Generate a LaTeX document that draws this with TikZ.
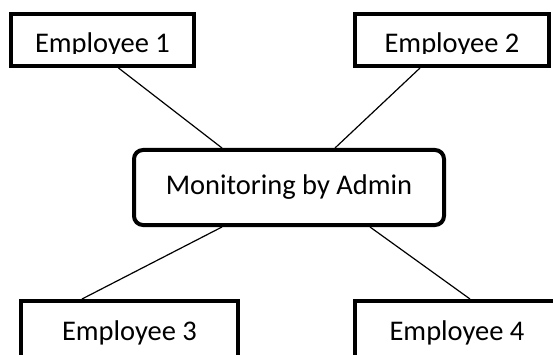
\documentclass[tikz,border=0pt]{standalone}
\usepackage{fontspec}
\setmainfont{Carlito}
\usetikzlibrary{positioning}
\tikzset{
  empbox/.style={draw, line width=4pt, fill=white, inner sep=0pt},
  adminbox/.style={draw, line width=4pt, fill=white, rounded corners=9pt,
    minimum width=310pt, minimum height=75pt, inner sep=0pt},
  lbl/.style={anchor=base, inner sep=0pt},
  link/.style={line width=1.2pt}
}

\begin{document}
\begin{tikzpicture}[x=1pt,y=-1pt,font=\fontsize{28.5}{34}\selectfont]
  \useasboundingbox (0,0) rectangle (553,355);

  \node[empbox, minimum width=183pt, minimum height=52pt] (emp1) at (102.5,40) {};
  \node[empbox, minimum width=194pt, minimum height=52pt] (emp2) at (452,40) {};
  \node[adminbox] (admin) at (289,187.5) {};
  \node[empbox, minimum width=217pt, minimum height=75pt] (emp3) at (129.5,338.5) {};
  \node[empbox, minimum width=204pt, minimum height=75pt] (emp4) at (457,338.5) {};

  % the top labels are cut off at the baseline
  \begin{scope}
    \clip (0,0) rectangle (553,53.5);
    \node[lbl] (emp1text) at (102.5,53) {Employee 1};
    \node[lbl] (emp2text) at (452,53) {Employee 2};
  \end{scope}
  \node[lbl] (admintext) at (289,194) {Monitoring by Admin};
  \node[lbl] (emp3text) at (129.5,340) {Employee 3};
  \node[lbl] (emp4text) at (457,340) {Employee 4};

  \draw[link] ([xshift=16pt]emp1.south) -- ([xshift=-67pt]admin.north);
  \draw[link] ([xshift=-32pt]emp2.south) -- ([xshift=46pt]admin.north);
  \draw[link] ([xshift=-67pt]admin.south) -- ([xshift=-47.5pt]emp3.north);
  \draw[link] ([xshift=81pt]admin.south) -- ([xshift=13pt]emp4.north);
\end{tikzpicture}
\end{document}
